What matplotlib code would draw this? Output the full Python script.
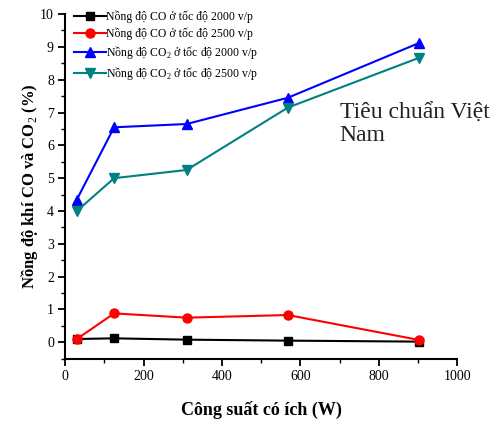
import matplotlib
matplotlib.use("Agg")
import matplotlib.pyplot as plt
from matplotlib.ticker import MultipleLocator

plt.rcParams['font.family'] = ['Liberation Serif', 'DejaVu Serif']
plt.rcParams['mathtext.fontset'] = 'custom'
plt.rcParams['mathtext.rm'] = 'Liberation Serif'
plt.rcParams['mathtext.bf'] = 'Liberation Serif:bold'

# công suất (W)
power = [30, 125, 310, 568, 903]

co_2000 = [0.10, 0.12, 0.08, 0.05, 0.02]
co_2500 = [0.10, 0.88, 0.75, 0.83, 0.07]
co2_2000 = [4.35, 6.55, 6.65, 7.45, 9.12]
co2_2500 = [4.00, 5.00, 5.25, 7.15, 8.67]

labels = [
    "Nồng độ CO ở tốc độ 2000 v/p",
    "Nồng độ CO ở tốc độ 2500 v/p",
    "Nồng độ CO$_2$ ở tốc độ 2000 v/p",
    "Nồng độ CO$_2$ ở tốc độ 2500 v/p",
]

fig = plt.figure(figsize=(4.97, 4.26), dpi=100)
ax = fig.add_axes([0.131, 0.158, 0.789, 0.809])

ax.plot(power, co_2000, "-s", color="black", lw=1.5, ms=6, label=labels[0])
ax.plot(power, co_2500, "-o", color="red", lw=1.5, ms=6.5, label=labels[1])
ax.plot(power, co2_2000, "-^", color="blue", lw=1.5, ms=7, label=labels[2])
ax.plot(power, co2_2500, "-v", color="#008080", lw=1.5, ms=7, label=labels[3])

ax.set_xlim(0, 1000)
ax.set_ylim(-0.5, 10)
ax.spines["top"].set_visible(False)
ax.spines["right"].set_visible(False)
ax.spines["left"].set_bounds(-0.5, 10)
ax.spines["left"].set_linewidth(1.5)
ax.spines["bottom"].set_linewidth(1.5)

ax.xaxis.set_major_locator(MultipleLocator(200))
ax.xaxis.set_minor_locator(MultipleLocator(100))
ax.yaxis.set_major_locator(MultipleLocator(1))
ax.yaxis.set_minor_locator(MultipleLocator(0.5))
ax.set_yticks(range(0, 11))
ax.tick_params(which="major", direction="out", length=5, width=1.3,
               labelsize=10, pad=3)
ax.tick_params(which="minor", direction="out", length=3, width=1.0)

ax.set_xlabel("Công suất có ích (W)", fontsize=13, fontweight="bold", labelpad=13)
ax.set_ylabel("Nồng độ khí CO và CO$_2$ (%)", fontsize=12, fontweight="bold")
ax.yaxis.set_label_coords(-0.065, 0.5)

ax.legend(loc="upper left", bbox_to_anchor=(-0.005, 1.04), frameon=False,
          fontsize=8.5, handlelength=2.7, handletextpad=0.0, labelspacing=0.35)

ax.text(700, 7.3, "Tiêu chuẩn Việt\nNam", fontsize=17, color="#222222",
        va="top", ha="left", linespacing=1.1)

fig.savefig("out.png", dpi=100)
